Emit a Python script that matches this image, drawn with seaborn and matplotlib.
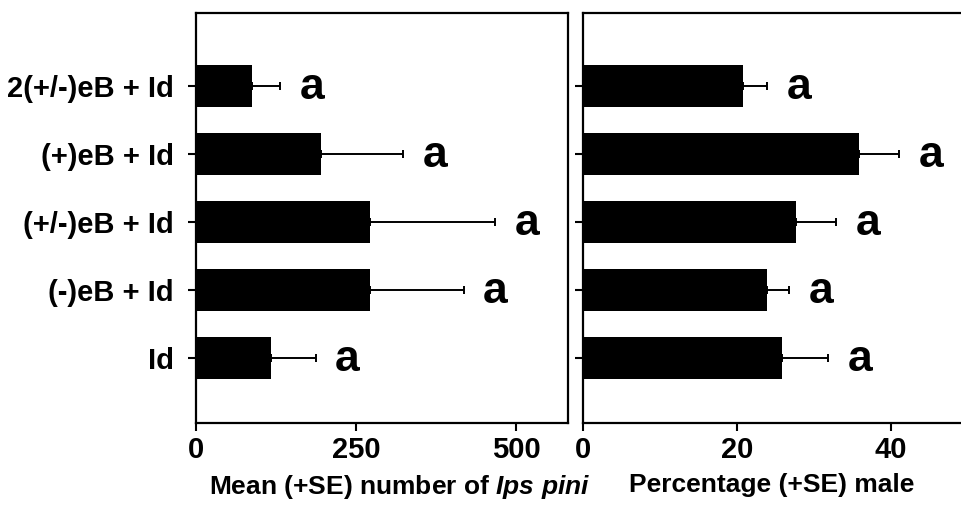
import numpy as np
import pandas as pd
import matplotlib
matplotlib.use('Agg')
import matplotlib.pyplot as plt
import seaborn as sns

# data
treatments = ['2(+/-)eB + Id', '(+)eB + Id', '(+/-)eB + Id', '(-)eB + Id', 'Id']
mean_ips = [87, 196, 271, 271, 117]
se_ips = [44, 127, 196, 147, 70]
pct_male = [20.8, 35.8, 27.7, 23.9, 25.8]
se_male = [3.1, 5.2, 5.2, 2.9, 6.0]
letters_ips = ['a', 'a', 'a', 'a', 'a']
letters_male = ['a', 'a', 'a', 'a', 'a']

df = pd.DataFrame({'treatment': treatments, 'mean_ips': mean_ips, 'se_ips': se_ips,
                   'pct_male': pct_male, 'se_male': se_male})

sns.set_theme(style='ticks', rc={'axes.edgecolor': 'black', 'xtick.color': 'black',
                                 'ytick.color': 'black', 'text.color': 'black',
                                 'axes.labelcolor': 'black'})
plt.rcParams['font.family'] = ['Liberation Sans', 'DejaVu Sans']
plt.rcParams['font.weight'] = 'bold'
plt.rcParams['mathtext.fontset'] = 'custom'
plt.rcParams['mathtext.it'] = 'Liberation Sans:italic:bold'
plt.rcParams['mathtext.rm'] = 'Liberation Sans:bold'

fig = plt.figure(figsize=(9.62, 5.13), dpi=100)
ax1 = fig.add_axes([196 / 962, 90 / 513, 372 / 962, 410 / 513])
ax2 = fig.add_axes([583 / 962, 90 / 513, 379 / 962, 410 / 513])


def draw_panel(ax, col, se_col, letters, xmax, ticks):
    sns.barplot(data=df, x=col, y='treatment', orient='h', color='black', saturation=1,
                width=0.62, errorbar=None, ax=ax, linewidth=0)
    pos = np.arange(len(df))
    # only the upper (+SE) half of the error bar is shown
    ax.errorbar(df[col], pos, xerr=[np.zeros(len(df)), df[se_col]], fmt='none',
                ecolor='black', elinewidth=1.4, capsize=3, capthick=1.4)
    for i, (v, s, lab) in enumerate(zip(df[col], df[se_col], letters)):
        ax.annotate(lab, xy=(v + s, i), xytext=(14, -1), textcoords='offset points',
                    ha='left', va='center', fontsize=32, fontweight='bold')
    ax.set_xlim(0, xmax)
    ax.set_ylim(4.96, -1.07)
    ax.set_xticks(ticks)
    ax.set_ylabel('')
    ax.tick_params(axis='both', direction='out', length=6, width=1.5)
    ax.tick_params(axis='x', labelsize=21, pad=3)
    ax.tick_params(axis='y', labelsize=21, pad=10)
    for sp in ax.spines.values():
        sp.set_linewidth(1.6)
        sp.set_visible(True)


draw_panel(ax1, 'mean_ips', 'se_ips', letters_ips, 581, [0, 250, 500])
draw_panel(ax2, 'pct_male', 'se_male', letters_male, 49.2, [0, 20, 40])

ax1.set_xlabel(r'Mean (+SE) number of $\mathit{Ips\ pini}$', fontsize=19, fontweight='bold')
ax1.xaxis.set_label_coords(0.548, -0.122)
ax2.set_xlabel('Percentage (+SE) male', fontsize=19, fontweight='bold')
ax2.xaxis.set_label_coords(0.497, -0.122)

ax2.set_yticklabels([])
ax2.spines['right'].set_visible(False)

plt.savefig('out.png', dpi=100)
